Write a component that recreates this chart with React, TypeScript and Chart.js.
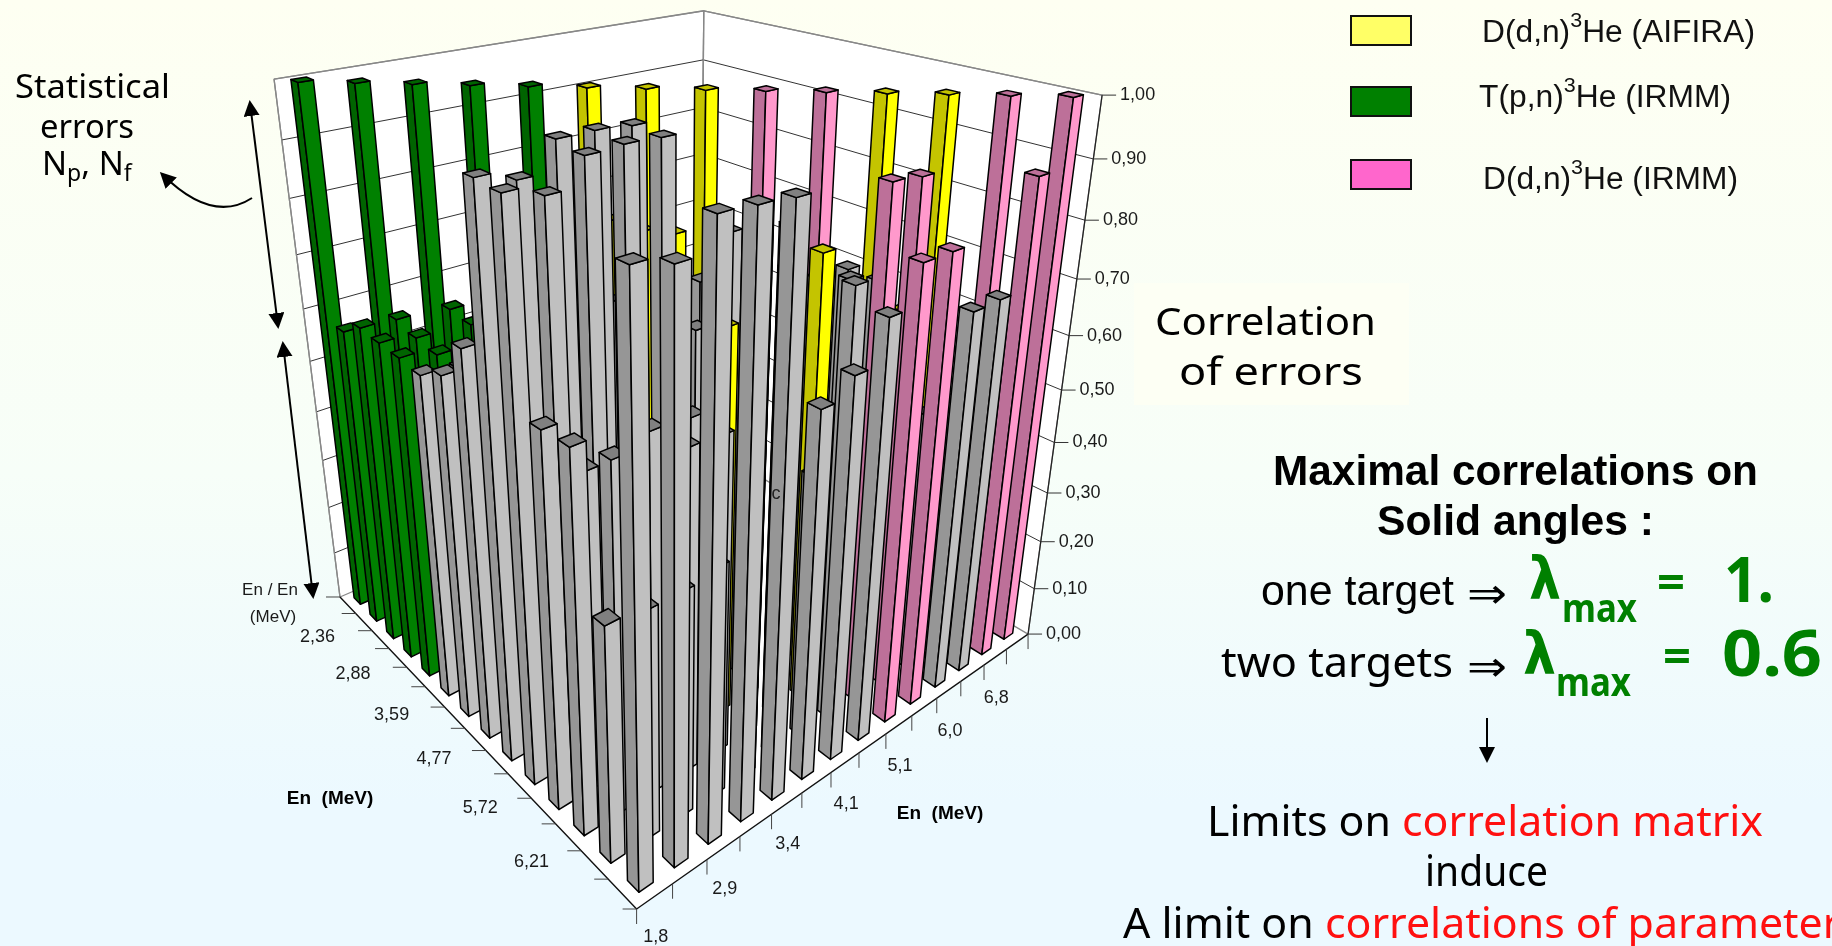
import React, { useEffect, useRef } from "react";
import { Chart, registerables } from "chart.js";

Chart.register(...registerables);

// Tick labels along the two floor axes (every second cell is labelled)
const energyAxisRight = ["1,8", "", "2,9", "", "3,4", "", "4,1", "", "5,1", "", "6,0", "", "6,8", ""];
const energyAxisLeft = ["", "6,21", "", "5,72", "", "4,77", "", "3,59", "", "2,88", "", "2,36", "", ""];

// Which experiment each energy belongs to
const experiments = ["T", "T", "T", "T", "T", "A", "A", "A", "I", "I", "A", "A", "I", "I"];

// Correlation values: one list per column along the right floor axis,
// running from the front edge towards the left floor axis
const col0 = [0.95, 0.42, 0.66, 0.657, 0.967, 0.971, 0.703, 0.635, 0.61, 0.615, 0.617, 0.62, 0.59, 1];
const col1 = [0.934, 0.41, 0.616, 0.567, 0.949, 0.954, 0.68, 0.64, 0.6, 0.6, 0.606, 0.616, 1];
const col2 = [0.98, 0.41, 0.635, 0.51, 0.99, 0.998, 0.7, 0.66, 0.62, 0.633, 0.638, 1];
const col3 = [0.976, 0.42, 0.584, 0.5, 0.993, 0.998, 0.7, 0.65, 0.62, 0.62, 1];
const col4 = [0.971, 0.43, 0.58, 0.582, 0.99, 0.993, 0.7, 0.65, 0.62, 1];
const col5 = [0.654, 0.45, 0.8, 0.707, 0.68, 0.62, 0.8, 0.8, 1];
const col6 = [0.684, 0.49, 0.8, 0.7, 0.82, 0.72, 0.78, 1];
const col7 = [0.753, 0.78, 0.81, 0.7, 0.8, 0.67, 1];
const col8 = [0.818, 0.92, 0.75, 0.73, 0.8, 1];
const col9 = [0.818, 0.914, 0.73, 0.73, 1];
const col10 = [0.705, 0.5, 0.66, 1];
const col11 = [0.7066, 0.5, 1];
const col12 = [0.89, 1];
const col13 = [1];
const correlationColumns = [col0, col1, col2, col3, col4, col5, col6, col7, col8, col9, col10, col11, col12, col13];

const palette: Record<string, string[]> = {
  A: ["#FFFF00", "#C4C400", "#C4C400"],
  T: ["#008000", "#006400", "#006400"],
  I: ["#FF99CC", "#BD7099", "#BD7099"],
  X: ["#C0C0C0", "#969696", "#808080"],
};
const seriesLabels: Record<string, string> = {
  A: "D(d,n)3He (AIFIRA)",
  T: "T(p,n)3He (IRMM)",
  I: "D(d,n)3He (IRMM)",
  X: "Cross terms",
};

const seriesKey = (a: number, b: number) => {
  const e1 = experiments[a];
  const e2 = experiments[13 - b];
  return e1 === e2 ? e1 : "X";
};

const datasets = ["A", "T", "I", "X"].map((key) => {
  const data: { x: number; y: number; z: number }[] = [];
  correlationColumns.forEach((col, a) =>
    col.forEach((z, b) => {
      if (seriesKey(a, b) === key) data.push({ x: a + 0.5, y: b + 0.5, z });
    })
  );
  return { label: seriesLabels[key], key, data, pointRadius: 0, showLine: false };
});

// Perspective camera: homogeneous origin and the three axis vectors of the box
const camO = [636.6, 909, 1];
const camU = [-168.8, -87.6, 0.3759];
const camV = [715.6, -75, 0.3153];
const camZ = [-153, -730.5, -0.2272];
const project = (u: number, v: number, z: number): [number, number] => {
  const h = [0, 1, 2].map((i) => camO[i] + u * camU[i] + v * camV[i] + z * camZ[i]);
  return [h[0] / h[2], h[1] / h[2]];
};

const HALF_BAR = 0.2;

const poly = (ctx: CanvasRenderingContext2D, pts: [number, number][], fill: string | null, stroke: string, lw = 1.5) => {
  ctx.beginPath();
  pts.forEach((p, i) => (i ? ctx.lineTo(p[0], p[1]) : ctx.moveTo(p[0], p[1])));
  if (fill) {
    ctx.closePath();
    ctx.fillStyle = fill;
    ctx.fill();
  }
  ctx.strokeStyle = stroke;
  ctx.lineWidth = lw;
  ctx.lineJoin = "round";
  ctx.stroke();
};

const bars3d = {
  id: "bars3d",
  afterDatasetsDraw(chart: any) {
    const ctx: CanvasRenderingContext2D = chart.ctx;
    const sx = chart.scales.x;
    const sy = chart.scales.y;
    const sz = chart.scales.correlation;
    const fr = (s: any, v: number) => s.getDecimalForPixel(s.getPixelForValue(v));
    const P = (along: number, across: number, z: number) => project(fr(sy, across), fr(sx, along), fr(sz, z));

    ctx.save();
    // walls and floor
    poly(ctx, [P(0, 14, 0), P(0, 0, 0), P(14, 0, 0), P(14, 14, 0)], "#FFFFFF", "#FFFFFF", 1);
    poly(ctx, [P(0, 14, 0), P(0, 14, 1), P(14, 14, 1), P(14, 14, 0)], "#FFFFFF", "#888888", 1.3);
    poly(ctx, [P(14, 0, 0), P(14, 0, 1), P(14, 14, 1), P(14, 14, 0)], "#FFFFFF", "#888888", 1.3);

    const zTicks: any[] = sz.ticks;
    zTicks.forEach((t) => {
      const z = t.value;
      if (z > 0 && z < 1) {
        poly(ctx, [P(0, 14, z), P(14, 14, z), P(14, 0, z)], null, "#333333", 1);
      }
    });
    poly(ctx, [P(0, 14, 1), P(14, 14, 1), P(14, 0, 1)], null, "#888888", 1.5);
    poly(ctx, [P(14, 14, 0), P(14, 14, 1)], null, "#888888", 1.3);
    poly(ctx, [P(0, 14, 0), P(0, 14, 1)], null, "#888888", 1.3);
    poly(ctx, [P(14, 0, 0), P(14, 0, 1)], null, "#222222", 1.2);
    poly(ctx, [P(0, 14, 0), P(0, 0, 0), P(14, 0, 0)], null, "#111111", 1.4);

    // axis ticks and labels
    ctx.textBaseline = "middle";
    ctx.font = "18px 'Liberation Sans'";
    zTicks.forEach((t) => {
      const [x, y] = P(14, 0, t.value);
      poly(ctx, [[x, y], [x + 14, y]], null, "#333333", 1);
      ctx.fillStyle = "#1A1A1A";
      ctx.textAlign = "left";
      ctx.fillText(t.value.toFixed(2).replace(".", ","), x + 18, y);
    });
    for (let i = 0; i <= 14; i++) {
      const [x1, y1] = P(0, i, 0);
      poly(ctx, [[x1, y1], [x1 - 14, y1]], null, "#444444", 1);
      const [x2, y2] = P(i, 0, 0);
      poly(ctx, [[x2, y2], [x2, y2 + 15]], null, "#444444", 1);
    }
    ctx.fillStyle = "#1A1A1A";
    ctx.textAlign = "center";
    energyAxisRight.forEach((lab, i) => {
      if (!lab) return;
      const [x, y] = P(i + 0.5, 0, 0);
      ctx.fillText(lab, x + 1, y + 41);
    });
    energyAxisLeft.forEach((lab, i) => {
      if (!lab) return;
      const [x, y] = P(0, i + 0.5, 0);
      ctx.fillText(lab, x - 63, y - 3);
    });

    // bars, far ones first
    const items: any[] = [];
    chart.data.datasets.forEach((ds: any) => ds.data.forEach((d: any) => items.push({ ...d, key: ds.key })));
    items.sort((p, q) => q.x + q.y - (p.x + p.y));
    items.forEach((d) => {
      const [light, dark, top] = palette[d.key];
      const h = HALF_BAR;
      const at = (du: number, dv: number, z: number) => P(d.x + dv * h, d.y + du * h, z);
      poly(ctx, [at(1, -1, 0), at(-1, -1, 0), at(-1, -1, d.z), at(1, -1, d.z)], dark, "#000000");
      poly(ctx, [at(-1, -1, 0), at(-1, 1, 0), at(-1, 1, d.z), at(-1, -1, d.z)], light, "#000000");
      poly(ctx, [at(-1, -1, d.z), at(1, -1, d.z), at(1, 1, d.z), at(-1, 1, d.z)], top, "#000000");
    });

    // axis titles
    ctx.fillStyle = "#1A1A1A";
    ctx.textAlign = "center";
    ctx.font = "17px 'Liberation Sans'";
    ctx.fillText("En / En", 270, 590);
    ctx.fillText("(MeV)", 273, 617);
    ctx.font = "bold 19px 'Liberation Sans'";
    ctx.fillStyle = "#000000";
    ctx.fillText("En  (MeV)", 330, 799);
    ctx.fillText("En  (MeV)", 940, 814);
    ctx.font = "18px 'Liberation Sans'";
    ctx.fillStyle = "#222222";
    ctx.fillText("c", 776, 494);
    ctx.restore();
  },
};

const COMIC = "'Noto Sans'";
const HELV = "'Liberation Sans'";
const GREEN = "#008000";
const RED = "#FF1010";

function T(props: any) {
  const { x, y, w, size = 40, font = COMIC, fill = "#000", bold, children } = props;
  return (
    <text
      x={x}
      y={y}
      fontFamily={font}
      fontSize={size}
      fontWeight={bold ? 700 : 400}
      fill={fill}
      dominantBaseline="central"
      {...(w ? { textLength: w, lengthAdjust: "spacingAndGlyphs" } : {})}
    >
      {children}
    </text>
  );
}

const Sup = ({ children }: any) => (
  <>
    <tspan dy={-12} fontSize={21}>{children}</tspan>
    <tspan dy={12}>{"\u200b"}</tspan>
  </>
);

export default function App() {
  const ref = useRef<HTMLCanvasElement>(null);
  useEffect(() => {
    const chart = new Chart(ref.current as HTMLCanvasElement, {
      type: "scatter",
      data: { datasets: datasets as any },
      options: {
        animation: false,
        responsive: false,
        layout: { padding: 0 },
        plugins: { legend: { display: false }, tooltip: { enabled: false } },
        scales: {
          x: { type: "linear", min: 0, max: 14, display: false },
          y: { type: "linear", min: 0, max: 14, display: false },
          correlation: { type: "linear", axis: "y", min: 0, max: 1, display: false, ticks: { stepSize: 0.1 } },
        },
      } as any,
      plugins: [bars3d as any],
    });
    return () => chart.destroy();
  }, []);

  return (
    <div
      style={{
        position: "fixed",
        left: 0,
        top: 0,
        width: 1832,
        height: 946,
        overflow: "hidden",
        background: "linear-gradient(#FEFFF2 0%, #F7FEF8 50%, #ECF9FF 85%, #ECF9FF 100%)",
      }}
    >
      <canvas ref={ref} width={1832} height={946} style={{ position: "absolute", left: 0, top: 0, width: 1832, height: 946 }} />
      <svg width={1832} height={946} style={{ position: "absolute", left: 0, top: 0 }}>
        <defs>
          <marker id="ah" markerWidth="20" markerHeight="20" refX="13" refY="8" orient="auto-start-reverse" markerUnits="userSpaceOnUse">
            <path d="M0,0 L16,8 L0,16 Z" fill="#000" />
          </marker>
        </defs>
        {/* legend */}
        <rect x={1351} y={16} width={60} height={29} fill="#FFFF66" stroke="#111" strokeWidth={2} />
        <rect x={1351} y={87} width={60} height={29} fill="#008000" stroke="#111" strokeWidth={2} />
        <rect x={1351} y={160} width={60} height={29} fill="#FF66CC" stroke="#111" strokeWidth={2} />
        <T x={1482} y={31} w={273} size={31} font={HELV} fill="#111">D(d,n)<Sup>3</Sup>He (AIFIRA)</T>
        <T x={1479} y={96} w={252} size={31} font={HELV} fill="#111">T(p,n)<Sup>3</Sup>He (IRMM)</T>
        <T x={1483} y={178} w={255} size={31} font={HELV} fill="#111">D(d,n)<Sup>3</Sup>He (IRMM)</T>

        {/* left note */}
        <T x={15} y={85} w={155} size={32}>Statistical</T>
        <T x={40} y={125} w={94} size={32}>errors</T>
        <text x={42} y={162} fontFamily={COMIC} fontSize={33} dominantBaseline="central">
          N<tspan dy={10} fontSize={23}>p</tspan><tspan dy={-10}>, N</tspan><tspan dy={10} fontSize={23}>f</tspan>
        </text>
        <line x1={250} y1={103} x2={278} y2={326} stroke="#000" strokeWidth={2} markerStart="url(#ah)" markerEnd="url(#ah)" />
        <line x1={283} y1={344} x2={313} y2={596} stroke="#000" strokeWidth={2} markerStart="url(#ah)" markerEnd="url(#ah)" />
        <path d="M252,198 Q212,224 162,174" fill="none" stroke="#000" strokeWidth={2} markerEnd="url(#ah)" />

        {/* axis caption */}
        <rect x={1134} y={283} width={275} height={122} fill="#FDFFF4" />
        <T x={1155} y={319} w={221} size={39}>Correlation</T>
        <T x={1179} y={369} w={184} size={39}>of errors</T>

        {/* right notes */}
        <T x={1273} y={470} w={485} size={43} font={HELV} bold>Maximal correlations on</T>
        <T x={1377} y={520} w={277} size={43} font={HELV} bold>Solid angles :</T>
        <T x={1261} y={590} w={193} size={42} font={HELV}>one target</T>
        <T x={1467} y={593} w={40} size={42} font="'DejaVu Sans'">⇒</T>
        <T x={1529} y={579} w={32} size={58} font="'DejaVu Sans'" fill={GREEN} bold>λ</T>
        <T x={1562} y={606} w={75} size={40} fill={GREEN} bold>max</T>
        <T x={1657} y={581} w={28} size={46} fill={GREEN} bold>=</T>
        <T x={1724} y={578} w={50} size={62} fill={GREEN} bold>1.</T>
        <T x={1221} y={661} w={232} size={41}>two targets</T>
        <T x={1467} y={666} w={40} size={42} font="'DejaVu Sans'">⇒</T>
        <T x={1523} y={654} w={33} size={58} font="'DejaVu Sans'" fill={GREEN} bold>λ</T>
        <T x={1556} y={680} w={75} size={40} fill={GREEN} bold>max</T>
        <T x={1663} y={655} w={28} size={46} fill={GREEN} bold>=</T>
        <T x={1722} y={651} w={100} size={64} fill={GREEN} bold>0.6</T>
        <line x1={1487} y1={718} x2={1487} y2={760} stroke="#000" strokeWidth={2} markerEnd="url(#ah)" />
        <T x={1207} y={820} w={556} size={41}>Limits on <tspan fill={RED}>correlation matrix</tspan></T>
        <T x={1425} y={870} w={123} size={41}>induce</T>
        <T x={1123} y={922} w={738} size={41}>A limit on <tspan fill={RED}>correlations of parameters</tspan></T>
      </svg>
    </div>
  );
}
